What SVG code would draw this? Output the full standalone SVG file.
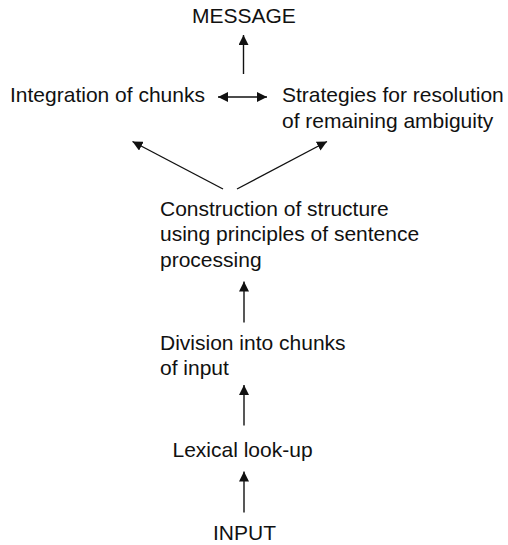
<svg xmlns="http://www.w3.org/2000/svg" width="508" height="545" viewBox="0 0 508 545">
  <style>
    .t { font-family: "Liberation Sans", Arial, sans-serif; font-size: 21px; fill: #111; }
    .c { stroke: #111; stroke-width: 1.4; fill: none; }
  </style>
  <defs>
    <marker id="head" viewBox="0 0 10 10" refX="10" refY="5" markerUnits="userSpaceOnUse" markerWidth="10" markerHeight="10" orient="auto-start-reverse">
      <path d="M0,0 L10,5 L0,10 z" fill="#111"/>
    </marker>
  </defs>
  <rect width="508" height="545" fill="#fff"/>

  <g id="message"><text class="t" x="192" y="22.5">MESSAGE</text></g>
  <g id="integration"><text class="t" x="10" y="102">Integration of chunks</text></g>
  <g id="strategies">
    <text class="t" x="282" y="102">Strategies for resolution</text>
    <text class="t" x="282" y="128">of remaining ambiguity</text>
  </g>
  <g id="construction">
    <text class="t" x="160" y="215.5">Construction of structure</text>
    <text class="t" x="160" y="241">using principles of sentence</text>
    <text class="t" x="160" y="266.5">processing</text>
  </g>
  <g id="division">
    <text class="t" x="160" y="350">Division into chunks</text>
    <text class="t" x="160" y="375">of input</text>
  </g>
  <g id="lexical"><text class="t" x="172.5" y="456.5">Lexical look-up</text></g>
  <g id="input"><text class="t" x="213" y="539.5">INPUT</text></g>

  <g id="connectors" class="c">
    <line x1="243.5" y1="74" x2="243.5" y2="35" marker-end="url(#head)"/>
    <line x1="218" y1="97" x2="267" y2="97" marker-start="url(#head)" marker-end="url(#head)"/>
    <line x1="223" y1="189" x2="132.5" y2="141.5" marker-end="url(#head)"/>
    <line x1="237" y1="189" x2="327" y2="141.5" marker-end="url(#head)"/>
    <line x1="244" y1="322.5" x2="244" y2="281.5" marker-end="url(#head)"/>
    <line x1="244" y1="425.5" x2="244" y2="385" marker-end="url(#head)"/>
    <line x1="244" y1="512.5" x2="244" y2="471.5" marker-end="url(#head)"/>
  </g>
</svg>
